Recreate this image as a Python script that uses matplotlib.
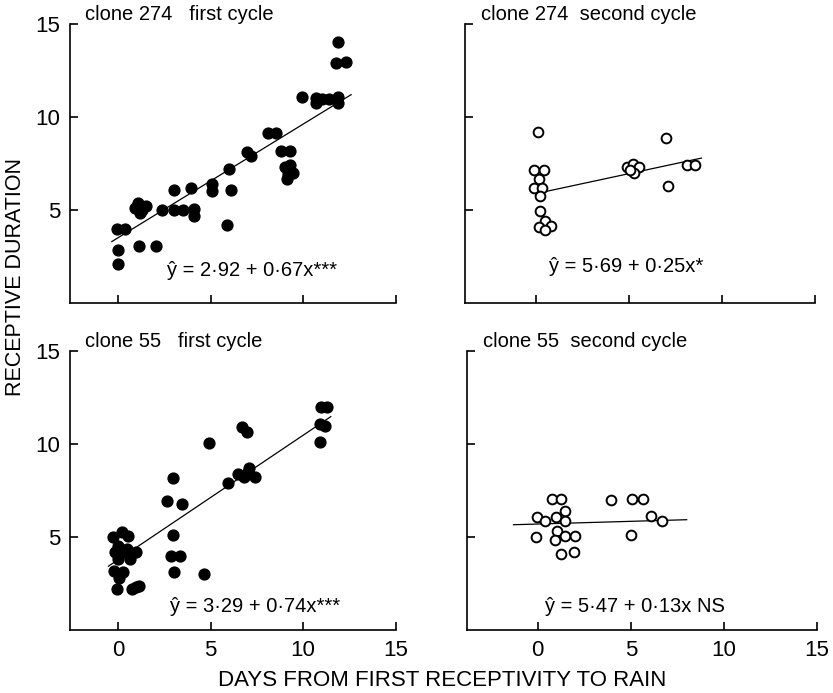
import matplotlib
matplotlib.use('Agg')
import matplotlib.pyplot as plt

plt.rcParams['font.family'] = ['Liberation Sans', 'DejaVu Sans']

# clone 274, first cycle (filled)
x274_1 = [0.0, 0.0, -0.07, 0.37, 1.12, 2.07, 0.9, 1.1, 1.3, 1.5, 1.2, 2.4, 3.0, 3.5, 3.0,
          3.95, 4.1, 4.1, 5.1, 5.1, 5.9, 6.0, 6.13, 6.95, 7.2, 8.13, 8.56, 8.8, 9.3, 9.0,
          9.3, 9.45, 9.2, 9.15, 9.97, 10.7, 10.7, 11.0, 11.4, 11.9, 11.9, 11.8, 12.3, 11.9]
y274_1 = [2.1, 2.85, 4.0, 4.0, 3.05, 3.05, 5.1, 5.4, 5.0, 5.2, 4.85, 5.0, 5.0, 5.0, 6.05,
          6.2, 5.05, 4.7, 6.4, 6.0, 4.2, 7.2, 6.05, 8.1, 7.9, 9.15, 9.15, 8.15, 8.15, 7.3,
          7.4, 7.0, 6.95, 6.65, 11.1, 11.0, 10.75, 10.95, 10.95, 11.1, 10.75, 12.9, 12.95, 14.05]

# clone 274, second cycle (open)
x274_2 = [0.12, -0.1, 0.45, 0.2, -0.1, 0.35, 0.25, 0.22, 0.48, 0.2, 0.8, 0.48,
          4.9, 5.2, 5.55, 5.3, 5.05, 7.0, 7.1, 8.1, 8.56]
y274_2 = [9.2, 7.15, 7.15, 6.65, 6.2, 6.2, 5.75, 4.95, 4.4, 4.1, 4.15, 3.95,
          7.3, 7.45, 7.3, 7.0, 7.15, 8.85, 6.3, 7.4, 7.4]

# clone 55, first cycle (filled)
x55_1 = [-0.25, 0.2, 0.55, 0.02, 0.47, -0.16, 0.29, 0.97, 0.65, 0.02, -0.21, 0.25, 0.07,
         -0.04, 0.74, 1.15, 0.95, 2.96, 2.85, 3.35, 3.0, 4.65, 2.67, 3.44, 2.97, 4.9,
         5.95, 6.5, 7.1, 6.8, 7.4, 7.0, 6.7, 6.97, 10.95, 11.27, 10.9, 11.2, 10.9]
y55_1 = [4.98, 5.25, 5.07, 4.53, 4.36, 4.18, 4.18, 4.18, 3.82, 3.82, 3.19, 3.1, 2.79,
         2.18, 2.18, 2.39, 2.3, 5.1, 4.0, 4.0, 3.1, 3.0, 6.91, 6.8, 8.15, 10.04,
         7.93, 8.4, 8.7, 8.2, 8.2, 8.5, 10.93, 10.65, 12.0, 12.0, 11.1, 10.97, 10.1]

# clone 55, second cycle (open)
x55_2 = [0.79, 1.27, 3.94, 5.04, 5.67, -0.04, 0.37, 0.96, 1.48, 1.48, 1.03, -0.07,
         0.95, 1.48, 2.02, 1.27, 1.95, 6.08, 6.65, 5.0]
y55_2 = [7.02, 7.02, 6.98, 7.02, 7.02, 6.07, 5.84, 6.09, 6.38, 5.84, 5.3, 5.0,
         4.82, 5.04, 5.04, 4.1, 4.2, 6.14, 5.87, 5.12]

# fitted lines as drawn (end points)
fit274_1 = ([-0.34, 12.6], [3.3, 11.2])
fit274_2 = ([0.57, 8.9], [6.0, 7.79])
fit55_1 = ([-0.52, 11.5], [3.43, 11.47])
fit55_2 = ([-1.3, 8.0], [5.66, 5.93])

titles = ['clone 274   first cycle', 'clone 274  second cycle',
          'clone 55   first cycle', 'clone 55  second cycle']
equations = ['\u0177 = 2\u00b792 + 0\u00b767x***', '\u0177 = 5\u00b769 + 0\u00b725x*',
             '\u0177 = 3\u00b729 + 0\u00b774x***', '\u0177 = 5\u00b747 + 0\u00b713x NS']
ticks = [0, 5, 10, 15]
yticks = [5, 10, 15]


def draw_panel(ax, x, y, fit, filled, title, eq, eq_pos, xmin, left_labels, bottom_labels):
    if filled:
        ax.plot(x, y, 'o', color='black', markersize=7.8, zorder=3)
    else:
        ax.plot(x, y, 'o', markerfacecolor='white', markeredgecolor='black',
                markersize=7.0, markeredgewidth=1.4, zorder=3)
    ax.plot(fit[0], fit[1], '-', color='black', linewidth=0.9, zorder=2)
    ax.set_xlim(xmin, 15)
    ax.set_ylim(0, 15)
    ax.set_xticks(ticks)
    ax.set_yticks(yticks)
    ax.spines['top'].set_visible(False)
    ax.spines['right'].set_visible(False)
    for s in ['left', 'bottom']:
        ax.spines[s].set_linewidth(1.2)
    ax.tick_params(direction='in', length=6, width=1.2, labelsize=16, pad=7)
    if not left_labels:
        ax.set_yticklabels([])
    if not bottom_labels:
        ax.set_xticklabels([])
    ax.text(0.045, 1.015, title, transform=ax.transAxes, fontsize=14.5,
            ha='left', va='baseline')
    ax.text(eq_pos[0], eq_pos[1], eq, transform=ax.transAxes, fontsize=14.5,
            ha='center', va='center')


fig = plt.figure(figsize=(8.33, 6.93), dpi=100)
ax1 = fig.add_axes([0.084, 0.5628, 0.3908, 0.4026])
ax2 = fig.add_axes([0.5582, 0.5628, 0.4202, 0.4026])
ax3 = fig.add_axes([0.084, 0.0909, 0.3908, 0.4026])
ax4 = fig.add_axes([0.5606, 0.0909, 0.4202, 0.4026])

draw_panel(ax1, x274_1, y274_1, fit274_1, True, titles[0], equations[0], (0.56, 0.115), -2.6, True, False)
draw_panel(ax2, x274_2, y274_2, fit274_2, False, titles[1], equations[1], (0.46, 0.13), -3.8, False, False)
draw_panel(ax3, x55_1, y55_1, fit55_1, True, titles[2], equations[2], (0.57, 0.085), -2.6, True, True)
draw_panel(ax4, x55_2, y55_2, fit55_2, False, titles[3], equations[3], (0.48, 0.085), -3.8, False, True)

fig.text(442 / 833, 1 - 680 / 693, 'DAYS FROM FIRST RECEPTIVITY TO RAIN',
         fontsize=16, ha='center', va='center')
fig.text(16 / 833, 1 - 277 / 693, 'RECEPTIVE DURATION', fontsize=15.5,
         rotation=90, ha='center', va='center')

fig.savefig('out.png', dpi=100)
